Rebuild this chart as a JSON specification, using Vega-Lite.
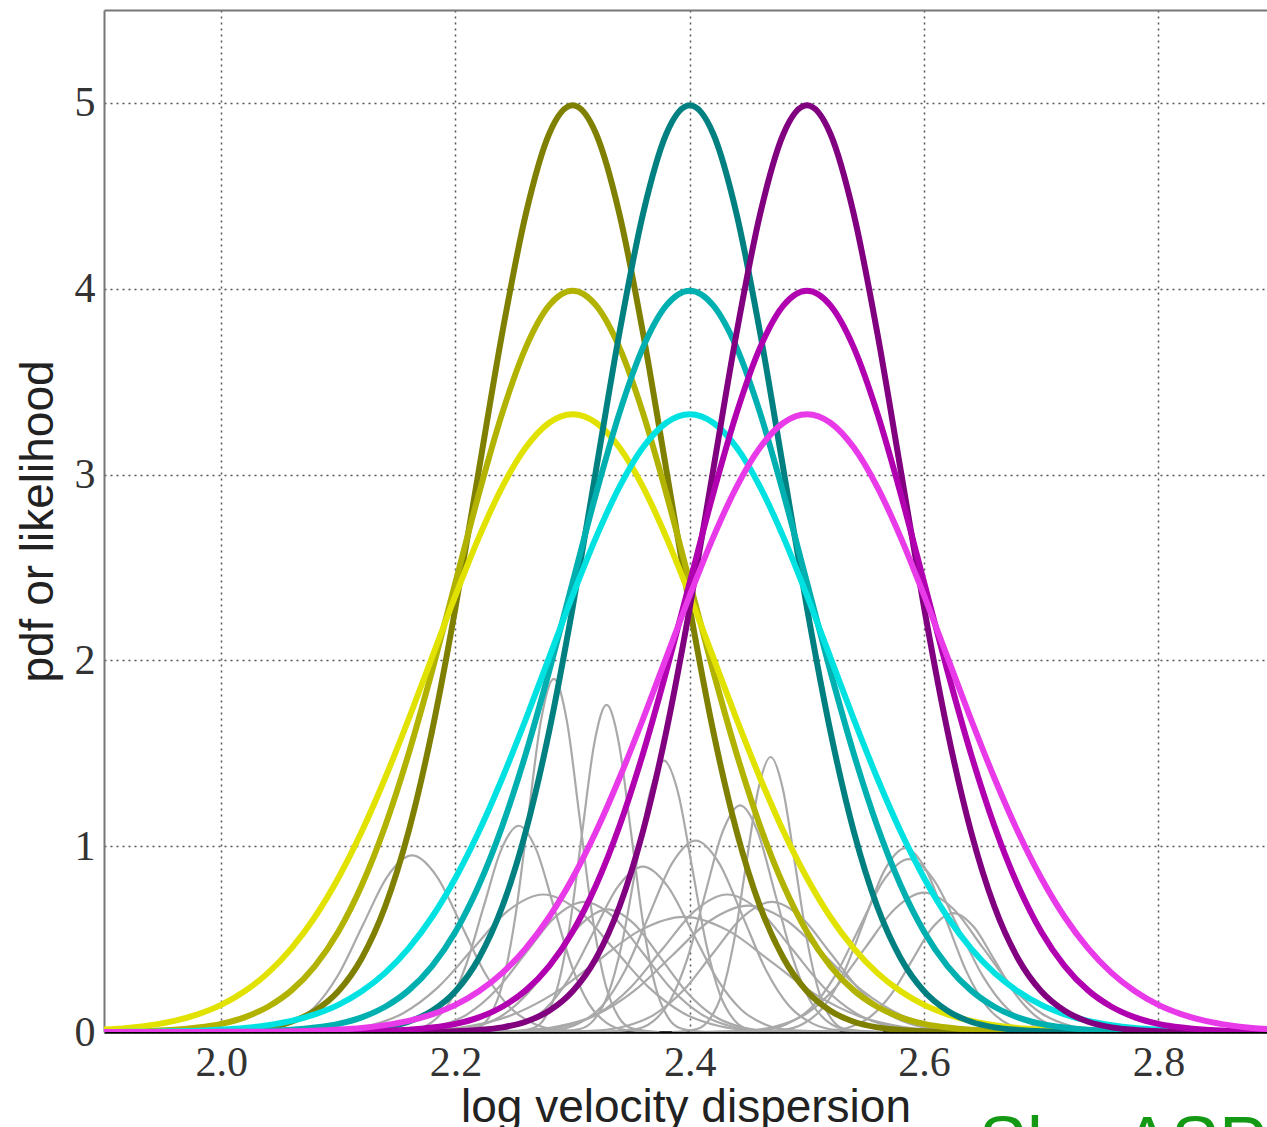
{
  "$schema": "https://vega.github.io/schema/vega-lite/v6.json",
  "autosize": {"type": "none"},
  "padding": {"left": 104, "top": 10, "right": 0, "bottom": 95},
  "width": 1163,
  "height": 1022,
  "background": "white",
  "config": {
    "view": {"stroke": null},
    "axis": {
      "labelFont": "Liberation Serif",
      "labelFontSize": 42,
      "labelColor": "#333333",
      "titleFont": "Liberation Sans",
      "titleFontSize": 46,
      "titleFontWeight": "normal",
      "titleColor": "#222222",
      "gridColor": "#555555",
      "gridDash": [2, 4],
      "gridWidth": 1.5,
      "ticks": false
    }
  },
  "title": {
    "text": "Shu ASP",
    "orient": "bottom",
    "anchor": "end",
    "frame": "group",
    "font": "Liberation Sans",
    "fontSize": 72,
    "fontWeight": "normal",
    "color": "#149914",
    "offset": -20
  },
  "datasets": {
    "gray": [
      {"g":"g1","x":1.995,"y":0},{"g":"g1","x":2.037,"y":0.011},{"g":"g1","x":2.058,"y":0.042},{"g":"g1","x":2.079,"y":0.129},{"g":"g1","x":2.1,"y":0.308},{"g":"g1","x":2.121,"y":0.576},{"g":"g1","x":2.142,"y":0.838},{"g":"g1","x":2.163,"y":0.95},{"g":"g1","x":2.184,"y":0.838},{"g":"g1","x":2.205,"y":0.576},{"g":"g1","x":2.226,"y":0.308},{"g":"g1","x":2.247,"y":0.129},{"g":"g1","x":2.268,"y":0.042},{"g":"g1","x":2.289,"y":0.011},{"g":"g1","x":2.331,"y":0},
      {"g":"g2","x":2.134,"y":0},{"g":"g2","x":2.164,"y":0.012},{"g":"g2","x":2.179,"y":0.049},{"g":"g2","x":2.194,"y":0.15},{"g":"g2","x":2.209,"y":0.36},{"g":"g2","x":2.224,"y":0.673},{"g":"g2","x":2.239,"y":0.98},{"g":"g2","x":2.254,"y":1.11},{"g":"g2","x":2.269,"y":0.98},{"g":"g2","x":2.284,"y":0.673},{"g":"g2","x":2.299,"y":0.36},{"g":"g2","x":2.314,"y":0.15},{"g":"g2","x":2.329,"y":0.049},{"g":"g2","x":2.344,"y":0.012},{"g":"g2","x":2.374,"y":0},
      {"g":"g3","x":2.196,"y":0},{"g":"g3","x":2.218,"y":0.021},{"g":"g3","x":2.229,"y":0.083},{"g":"g3","x":2.24,"y":0.257},{"g":"g3","x":2.251,"y":0.617},{"g":"g3","x":2.262,"y":1.152},{"g":"g3","x":2.273,"y":1.677},{"g":"g3","x":2.284,"y":1.9},{"g":"g3","x":2.295,"y":1.677},{"g":"g3","x":2.306,"y":1.152},{"g":"g3","x":2.317,"y":0.617},{"g":"g3","x":2.328,"y":0.257},{"g":"g3","x":2.339,"y":0.083},{"g":"g3","x":2.35,"y":0.021},{"g":"g3","x":2.372,"y":0},
      {"g":"g4","x":2.245,"y":0},{"g":"g4","x":2.266,"y":0.02},{"g":"g4","x":2.2765,"y":0.077},{"g":"g4","x":2.287,"y":0.238},{"g":"g4","x":2.2975,"y":0.571},{"g":"g4","x":2.308,"y":1.067},{"g":"g4","x":2.3185,"y":1.553},{"g":"g4","x":2.329,"y":1.76},{"g":"g4","x":2.3395,"y":1.553},{"g":"g4","x":2.35,"y":1.067},{"g":"g4","x":2.3605,"y":0.571},{"g":"g4","x":2.371,"y":0.238},{"g":"g4","x":2.3815,"y":0.077},{"g":"g4","x":2.392,"y":0.02},{"g":"g4","x":2.413,"y":0},
      {"g":"g5","x":2.282,"y":0},{"g":"g5","x":2.306,"y":0.016},{"g":"g5","x":2.318,"y":0.064},{"g":"g5","x":2.33,"y":0.198},{"g":"g5","x":2.342,"y":0.474},{"g":"g5","x":2.354,"y":0.885},{"g":"g5","x":2.366,"y":1.288},{"g":"g5","x":2.378,"y":1.46},{"g":"g5","x":2.39,"y":1.288},{"g":"g5","x":2.402,"y":0.885},{"g":"g5","x":2.414,"y":0.474},{"g":"g5","x":2.426,"y":0.198},{"g":"g5","x":2.438,"y":0.064},{"g":"g5","x":2.45,"y":0.016},{"g":"g5","x":2.474,"y":0},
      {"g":"g6","x":2.385,"y":0},{"g":"g6","x":2.406,"y":0.016},{"g":"g6","x":2.4165,"y":0.065},{"g":"g6","x":2.427,"y":0.2},{"g":"g6","x":2.4375,"y":0.481},{"g":"g6","x":2.448,"y":0.898},{"g":"g6","x":2.4585,"y":1.306},{"g":"g6","x":2.469,"y":1.48},{"g":"g6","x":2.4795,"y":1.306},{"g":"g6","x":2.49,"y":0.898},{"g":"g6","x":2.5005,"y":0.481},{"g":"g6","x":2.511,"y":0.2},{"g":"g6","x":2.5215,"y":0.065},{"g":"g6","x":2.532,"y":0.016},{"g":"g6","x":2.553,"y":0},
      {"g":"g7","x":2.323,"y":0},{"g":"g7","x":2.353,"y":0.014},{"g":"g7","x":2.368,"y":0.054},{"g":"g7","x":2.383,"y":0.165},{"g":"g7","x":2.398,"y":0.396},{"g":"g7","x":2.413,"y":0.74},{"g":"g7","x":2.428,"y":1.077},{"g":"g7","x":2.443,"y":1.22},{"g":"g7","x":2.458,"y":1.077},{"g":"g7","x":2.473,"y":0.74},{"g":"g7","x":2.488,"y":0.396},{"g":"g7","x":2.503,"y":0.165},{"g":"g7","x":2.518,"y":0.054},{"g":"g7","x":2.533,"y":0.014},{"g":"g7","x":2.563,"y":0},
      {"g":"g8","x":2.245,"y":0},{"g":"g8","x":2.285,"y":0.011},{"g":"g8","x":2.305,"y":0.045},{"g":"g8","x":2.325,"y":0.139},{"g":"g8","x":2.345,"y":0.334},{"g":"g8","x":2.365,"y":0.625},{"g":"g8","x":2.385,"y":0.909},{"g":"g8","x":2.405,"y":1.03},{"g":"g8","x":2.425,"y":0.909},{"g":"g8","x":2.445,"y":0.625},{"g":"g8","x":2.465,"y":0.334},{"g":"g8","x":2.485,"y":0.139},{"g":"g8","x":2.505,"y":0.045},{"g":"g8","x":2.525,"y":0.011},{"g":"g8","x":2.565,"y":0},
      {"g":"g9","x":2.444,"y":0},{"g":"g9","x":2.479,"y":0.011},{"g":"g9","x":2.4965,"y":0.043},{"g":"g9","x":2.514,"y":0.134},{"g":"g9","x":2.5315,"y":0.321},{"g":"g9","x":2.549,"y":0.6},{"g":"g9","x":2.5665,"y":0.874},{"g":"g9","x":2.584,"y":0.99},{"g":"g9","x":2.6015,"y":0.874},{"g":"g9","x":2.619,"y":0.6},{"g":"g9","x":2.6365,"y":0.321},{"g":"g9","x":2.654,"y":0.134},{"g":"g9","x":2.6715,"y":0.043},{"g":"g9","x":2.689,"y":0.011},{"g":"g9","x":2.724,"y":0},
      {"g":"g10","x":2.419,"y":0},{"g":"g10","x":2.461,"y":0.01},{"g":"g10","x":2.482,"y":0.041},{"g":"g10","x":2.503,"y":0.126},{"g":"g10","x":2.524,"y":0.302},{"g":"g10","x":2.545,"y":0.564},{"g":"g10","x":2.566,"y":0.821},{"g":"g10","x":2.587,"y":0.93},{"g":"g10","x":2.608,"y":0.821},{"g":"g10","x":2.629,"y":0.564},{"g":"g10","x":2.65,"y":0.302},{"g":"g10","x":2.671,"y":0.126},{"g":"g10","x":2.692,"y":0.041},{"g":"g10","x":2.713,"y":0.01},{"g":"g10","x":2.755,"y":0},
      {"g":"g11","x":2.4,"y":0},{"g":"g11","x":2.45,"y":0.008},{"g":"g11","x":2.475,"y":0.033},{"g":"g11","x":2.5,"y":0.101},{"g":"g11","x":2.525,"y":0.244},{"g":"g11","x":2.55,"y":0.455},{"g":"g11","x":2.575,"y":0.662},{"g":"g11","x":2.6,"y":0.75},{"g":"g11","x":2.625,"y":0.662},{"g":"g11","x":2.65,"y":0.455},{"g":"g11","x":2.675,"y":0.244},{"g":"g11","x":2.7,"y":0.101},{"g":"g11","x":2.725,"y":0.033},{"g":"g11","x":2.75,"y":0.008},{"g":"g11","x":2.8,"y":0},
      {"g":"g12","x":2.485,"y":0},{"g":"g12","x":2.52,"y":0.007},{"g":"g12","x":2.5375,"y":0.028},{"g":"g12","x":2.555,"y":0.087},{"g":"g12","x":2.5725,"y":0.208},{"g":"g12","x":2.59,"y":0.388},{"g":"g12","x":2.6075,"y":0.565},{"g":"g12","x":2.625,"y":0.64},{"g":"g12","x":2.6425,"y":0.565},{"g":"g12","x":2.66,"y":0.388},{"g":"g12","x":2.6775,"y":0.208},{"g":"g12","x":2.695,"y":0.087},{"g":"g12","x":2.7125,"y":0.028},{"g":"g12","x":2.73,"y":0.007},{"g":"g12","x":2.765,"y":0},
      {"g":"g13","x":2.035,"y":0},{"g":"g13","x":2.095,"y":0.008},{"g":"g13","x":2.125,"y":0.032},{"g":"g13","x":2.155,"y":0.1},{"g":"g13","x":2.185,"y":0.24},{"g":"g13","x":2.215,"y":0.449},{"g":"g13","x":2.245,"y":0.653},{"g":"g13","x":2.275,"y":0.74},{"g":"g13","x":2.305,"y":0.653},{"g":"g13","x":2.335,"y":0.449},{"g":"g13","x":2.365,"y":0.24},{"g":"g13","x":2.395,"y":0.1},{"g":"g13","x":2.425,"y":0.032},{"g":"g13","x":2.455,"y":0.008},{"g":"g13","x":2.515,"y":0},
      {"g":"g14","x":2.192,"y":0},{"g":"g14","x":2.234,"y":0.01},{"g":"g14","x":2.255,"y":0.039},{"g":"g14","x":2.276,"y":0.12},{"g":"g14","x":2.297,"y":0.289},{"g":"g14","x":2.318,"y":0.54},{"g":"g14","x":2.339,"y":0.785},{"g":"g14","x":2.36,"y":0.89},{"g":"g14","x":2.381,"y":0.785},{"g":"g14","x":2.402,"y":0.54},{"g":"g14","x":2.423,"y":0.289},{"g":"g14","x":2.444,"y":0.12},{"g":"g14","x":2.465,"y":0.039},{"g":"g14","x":2.486,"y":0.01},{"g":"g14","x":2.528,"y":0},
      {"g":"g15","x":2.212,"y":0},{"g":"g15","x":2.267,"y":0.008},{"g":"g15","x":2.2945,"y":0.032},{"g":"g15","x":2.322,"y":0.1},{"g":"g15","x":2.3495,"y":0.24},{"g":"g15","x":2.377,"y":0.449},{"g":"g15","x":2.4045,"y":0.653},{"g":"g15","x":2.432,"y":0.74},{"g":"g15","x":2.4595,"y":0.653},{"g":"g15","x":2.487,"y":0.449},{"g":"g15","x":2.5145,"y":0.24},{"g":"g15","x":2.542,"y":0.1},{"g":"g15","x":2.5695,"y":0.032},{"g":"g15","x":2.597,"y":0.008},{"g":"g15","x":2.652,"y":0},
      {"g":"g16","x":2.11,"y":0},{"g":"g16","x":2.16,"y":0.008},{"g":"g16","x":2.185,"y":0.031},{"g":"g16","x":2.21,"y":0.095},{"g":"g16","x":2.235,"y":0.227},{"g":"g16","x":2.26,"y":0.425},{"g":"g16","x":2.285,"y":0.618},{"g":"g16","x":2.31,"y":0.7},{"g":"g16","x":2.335,"y":0.618},{"g":"g16","x":2.36,"y":0.425},{"g":"g16","x":2.385,"y":0.227},{"g":"g16","x":2.41,"y":0.095},{"g":"g16","x":2.435,"y":0.031},{"g":"g16","x":2.46,"y":0.008},{"g":"g16","x":2.51,"y":0},
      {"g":"g18","x":2.19,"y":0},{"g":"g18","x":2.255,"y":0.008},{"g":"g18","x":2.2875,"y":0.03},{"g":"g18","x":2.32,"y":0.092},{"g":"g18","x":2.3525,"y":0.221},{"g":"g18","x":2.385,"y":0.412},{"g":"g18","x":2.4175,"y":0.6},{"g":"g18","x":2.45,"y":0.68},{"g":"g18","x":2.4825,"y":0.6},{"g":"g18","x":2.515,"y":0.412},{"g":"g18","x":2.5475,"y":0.221},{"g":"g18","x":2.58,"y":0.092},{"g":"g18","x":2.6125,"y":0.03},{"g":"g18","x":2.645,"y":0.008},{"g":"g18","x":2.71,"y":0},
      {"g":"g19","x":2.095,"y":0},{"g":"g19","x":2.17,"y":0.007},{"g":"g19","x":2.2075,"y":0.027},{"g":"g19","x":2.245,"y":0.084},{"g":"g19","x":2.2825,"y":0.201},{"g":"g19","x":2.32,"y":0.376},{"g":"g19","x":2.3575,"y":0.547},{"g":"g19","x":2.395,"y":0.62},{"g":"g19","x":2.4325,"y":0.547},{"g":"g19","x":2.47,"y":0.376},{"g":"g19","x":2.5075,"y":0.201},{"g":"g19","x":2.545,"y":0.084},{"g":"g19","x":2.5825,"y":0.027},{"g":"g19","x":2.62,"y":0.007},{"g":"g19","x":2.695,"y":0},
      {"g":"g20","x":2.15,"y":0},{"g":"g20","x":2.195,"y":0.007},{"g":"g20","x":2.2175,"y":0.029},{"g":"g20","x":2.24,"y":0.089},{"g":"g20","x":2.2625,"y":0.214},{"g":"g20","x":2.285,"y":0.4},{"g":"g20","x":2.3075,"y":0.582},{"g":"g20","x":2.33,"y":0.66},{"g":"g20","x":2.3525,"y":0.582},{"g":"g20","x":2.375,"y":0.4},{"g":"g20","x":2.3975,"y":0.214},{"g":"g20","x":2.42,"y":0.089},{"g":"g20","x":2.4425,"y":0.029},{"g":"g20","x":2.465,"y":0.007},{"g":"g20","x":2.51,"y":0},
      {"g":"g21","x":2.27,"y":0},{"g":"g21","x":2.32,"y":0.008},{"g":"g21","x":2.345,"y":0.031},{"g":"g21","x":2.37,"y":0.095},{"g":"g21","x":2.395,"y":0.227},{"g":"g21","x":2.42,"y":0.425},{"g":"g21","x":2.445,"y":0.618},{"g":"g21","x":2.47,"y":0.7},{"g":"g21","x":2.495,"y":0.618},{"g":"g21","x":2.52,"y":0.425},{"g":"g21","x":2.545,"y":0.227},{"g":"g21","x":2.57,"y":0.095},{"g":"g21","x":2.595,"y":0.031},{"g":"g21","x":2.62,"y":0.008},{"g":"g21","x":2.67,"y":0}
    ],
    "main": [
      {"c":"o5","x":1.9,"y":0},{"c":"o5","x":1.96,"y":0},{"c":"o5","x":1.98,"y":0.002},{"c":"o5","x":2.0,"y":0.004},{"c":"o5","x":2.02,"y":0.011},{"c":"o5","x":2.04,"y":0.025},{"c":"o5","x":2.06,"y":0.055},{"c":"o5","x":2.08,"y":0.114},{"c":"o5","x":2.1,"y":0.219},{"c":"o5","x":2.12,"y":0.397},{"c":"o5","x":2.14,"y":0.675},{"c":"o5","x":2.16,"y":1.079},{"c":"o5","x":2.18,"y":1.619},{"c":"o5","x":2.2,"y":2.283},{"c":"o5","x":2.22,"y":3.025},{"c":"o5","x":2.24,"y":3.764},{"c":"o5","x":2.26,"y":4.401},{"c":"o5","x":2.28,"y":4.834},{"c":"o5","x":2.3,"y":4.987},{"c":"o5","x":2.32,"y":4.834},{"c":"o5","x":2.34,"y":4.401},{"c":"o5","x":2.36,"y":3.764},{"c":"o5","x":2.38,"y":3.025},{"c":"o5","x":2.4,"y":2.283},{"c":"o5","x":2.42,"y":1.619},{"c":"o5","x":2.44,"y":1.079},{"c":"o5","x":2.46,"y":0.675},{"c":"o5","x":2.48,"y":0.397},{"c":"o5","x":2.5,"y":0.219},{"c":"o5","x":2.52,"y":0.114},{"c":"o5","x":2.54,"y":0.055},{"c":"o5","x":2.56,"y":0.025},{"c":"o5","x":2.58,"y":0.011},{"c":"o5","x":2.6,"y":0.004},{"c":"o5","x":2.62,"y":0.002},{"c":"o5","x":2.64,"y":0},{"c":"o5","x":2.9,"y":0},
      {"c":"o4","x":1.9,"y":0.001},{"c":"o4","x":1.92,"y":0.003},{"c":"o4","x":1.94,"y":0.006},{"c":"o4","x":1.96,"y":0.012},{"c":"o4","x":1.98,"y":0.024},{"c":"o4","x":2.0,"y":0.044},{"c":"o4","x":2.02,"y":0.079},{"c":"o4","x":2.04,"y":0.136},{"c":"o4","x":2.06,"y":0.224},{"c":"o4","x":2.08,"y":0.355},{"c":"o4","x":2.1,"y":0.54},{"c":"o4","x":2.12,"y":0.79},{"c":"o4","x":2.14,"y":1.109},{"c":"o4","x":2.16,"y":1.497},{"c":"o4","x":2.18,"y":1.942},{"c":"o4","x":2.2,"y":2.42},{"c":"o4","x":2.22,"y":2.897},{"c":"o4","x":2.24,"y":3.332},{"c":"o4","x":2.26,"y":3.683},{"c":"o4","x":2.28,"y":3.91},{"c":"o4","x":2.3,"y":3.989},{"c":"o4","x":2.32,"y":3.91},{"c":"o4","x":2.34,"y":3.683},{"c":"o4","x":2.36,"y":3.332},{"c":"o4","x":2.38,"y":2.897},{"c":"o4","x":2.4,"y":2.42},{"c":"o4","x":2.42,"y":1.942},{"c":"o4","x":2.44,"y":1.497},{"c":"o4","x":2.46,"y":1.109},{"c":"o4","x":2.48,"y":0.79},{"c":"o4","x":2.5,"y":0.54},{"c":"o4","x":2.52,"y":0.355},{"c":"o4","x":2.54,"y":0.224},{"c":"o4","x":2.56,"y":0.136},{"c":"o4","x":2.58,"y":0.079},{"c":"o4","x":2.6,"y":0.044},{"c":"o4","x":2.62,"y":0.024},{"c":"o4","x":2.64,"y":0.012},{"c":"o4","x":2.66,"y":0.006},{"c":"o4","x":2.68,"y":0.003},{"c":"o4","x":2.7,"y":0.001},{"c":"o4","x":2.72,"y":0},{"c":"o4","x":2.9,"y":0},
      {"c":"o3","x":1.9,"y":0.013},{"c":"o3","x":1.92,"y":0.022},{"c":"o3","x":1.94,"y":0.037},{"c":"o3","x":1.96,"y":0.06},{"c":"o3","x":1.98,"y":0.095},{"c":"o3","x":2.0,"y":0.146},{"c":"o3","x":2.02,"y":0.219},{"c":"o3","x":2.04,"y":0.318},{"c":"o3","x":2.06,"y":0.45},{"c":"o3","x":2.08,"y":0.619},{"c":"o3","x":2.1,"y":0.829},{"c":"o3","x":2.12,"y":1.079},{"c":"o3","x":2.14,"y":1.367},{"c":"o3","x":2.16,"y":1.683},{"c":"o3","x":2.18,"y":2.016},{"c":"o3","x":2.2,"y":2.349},{"c":"o3","x":2.22,"y":2.662},{"c":"o3","x":2.24,"y":2.934},{"c":"o3","x":2.26,"y":3.145},{"c":"o3","x":2.28,"y":3.279},{"c":"o3","x":2.3,"y":3.325},{"c":"o3","x":2.32,"y":3.279},{"c":"o3","x":2.34,"y":3.145},{"c":"o3","x":2.36,"y":2.934},{"c":"o3","x":2.38,"y":2.662},{"c":"o3","x":2.4,"y":2.349},{"c":"o3","x":2.42,"y":2.016},{"c":"o3","x":2.44,"y":1.683},{"c":"o3","x":2.46,"y":1.367},{"c":"o3","x":2.48,"y":1.079},{"c":"o3","x":2.5,"y":0.829},{"c":"o3","x":2.52,"y":0.619},{"c":"o3","x":2.54,"y":0.45},{"c":"o3","x":2.56,"y":0.318},{"c":"o3","x":2.58,"y":0.219},{"c":"o3","x":2.6,"y":0.146},{"c":"o3","x":2.62,"y":0.095},{"c":"o3","x":2.64,"y":0.06},{"c":"o3","x":2.66,"y":0.037},{"c":"o3","x":2.68,"y":0.022},{"c":"o3","x":2.7,"y":0.013},{"c":"o3","x":2.72,"y":0.007},{"c":"o3","x":2.74,"y":0.004},{"c":"o3","x":2.76,"y":0.002},{"c":"o3","x":2.78,"y":0.001},{"c":"o3","x":2.8,"y":0},{"c":"o3","x":2.9,"y":0},
      {"c":"t5","x":1.9,"y":0},{"c":"t5","x":2.06,"y":0},{"c":"t5","x":2.08,"y":0.002},{"c":"t5","x":2.1,"y":0.004},{"c":"t5","x":2.12,"y":0.011},{"c":"t5","x":2.14,"y":0.025},{"c":"t5","x":2.16,"y":0.055},{"c":"t5","x":2.18,"y":0.114},{"c":"t5","x":2.2,"y":0.219},{"c":"t5","x":2.22,"y":0.397},{"c":"t5","x":2.24,"y":0.675},{"c":"t5","x":2.26,"y":1.079},{"c":"t5","x":2.28,"y":1.619},{"c":"t5","x":2.3,"y":2.283},{"c":"t5","x":2.32,"y":3.025},{"c":"t5","x":2.34,"y":3.764},{"c":"t5","x":2.36,"y":4.401},{"c":"t5","x":2.38,"y":4.834},{"c":"t5","x":2.4,"y":4.987},{"c":"t5","x":2.42,"y":4.834},{"c":"t5","x":2.44,"y":4.401},{"c":"t5","x":2.46,"y":3.764},{"c":"t5","x":2.48,"y":3.025},{"c":"t5","x":2.5,"y":2.283},{"c":"t5","x":2.52,"y":1.619},{"c":"t5","x":2.54,"y":1.079},{"c":"t5","x":2.56,"y":0.675},{"c":"t5","x":2.58,"y":0.397},{"c":"t5","x":2.6,"y":0.219},{"c":"t5","x":2.62,"y":0.114},{"c":"t5","x":2.64,"y":0.055},{"c":"t5","x":2.66,"y":0.025},{"c":"t5","x":2.68,"y":0.011},{"c":"t5","x":2.7,"y":0.004},{"c":"t5","x":2.72,"y":0.002},{"c":"t5","x":2.74,"y":0},{"c":"t5","x":2.9,"y":0},
      {"c":"t4","x":1.9,"y":0},{"c":"t4","x":1.98,"y":0},{"c":"t4","x":2.0,"y":0.001},{"c":"t4","x":2.02,"y":0.003},{"c":"t4","x":2.04,"y":0.006},{"c":"t4","x":2.06,"y":0.012},{"c":"t4","x":2.08,"y":0.024},{"c":"t4","x":2.1,"y":0.044},{"c":"t4","x":2.12,"y":0.079},{"c":"t4","x":2.14,"y":0.136},{"c":"t4","x":2.16,"y":0.224},{"c":"t4","x":2.18,"y":0.355},{"c":"t4","x":2.2,"y":0.54},{"c":"t4","x":2.22,"y":0.79},{"c":"t4","x":2.24,"y":1.109},{"c":"t4","x":2.26,"y":1.497},{"c":"t4","x":2.28,"y":1.942},{"c":"t4","x":2.3,"y":2.42},{"c":"t4","x":2.32,"y":2.897},{"c":"t4","x":2.34,"y":3.332},{"c":"t4","x":2.36,"y":3.683},{"c":"t4","x":2.38,"y":3.91},{"c":"t4","x":2.4,"y":3.989},{"c":"t4","x":2.42,"y":3.91},{"c":"t4","x":2.44,"y":3.683},{"c":"t4","x":2.46,"y":3.332},{"c":"t4","x":2.48,"y":2.897},{"c":"t4","x":2.5,"y":2.42},{"c":"t4","x":2.52,"y":1.942},{"c":"t4","x":2.54,"y":1.497},{"c":"t4","x":2.56,"y":1.109},{"c":"t4","x":2.58,"y":0.79},{"c":"t4","x":2.6,"y":0.54},{"c":"t4","x":2.62,"y":0.355},{"c":"t4","x":2.64,"y":0.224},{"c":"t4","x":2.66,"y":0.136},{"c":"t4","x":2.68,"y":0.079},{"c":"t4","x":2.7,"y":0.044},{"c":"t4","x":2.72,"y":0.024},{"c":"t4","x":2.74,"y":0.012},{"c":"t4","x":2.76,"y":0.006},{"c":"t4","x":2.78,"y":0.003},{"c":"t4","x":2.8,"y":0.001},{"c":"t4","x":2.82,"y":0},{"c":"t4","x":2.9,"y":0},
      {"c":"t3","x":1.9,"y":0},{"c":"t3","x":1.92,"y":0.001},{"c":"t3","x":1.94,"y":0.002},{"c":"t3","x":1.96,"y":0.004},{"c":"t3","x":1.98,"y":0.007},{"c":"t3","x":2.0,"y":0.013},{"c":"t3","x":2.02,"y":0.022},{"c":"t3","x":2.04,"y":0.037},{"c":"t3","x":2.06,"y":0.06},{"c":"t3","x":2.08,"y":0.095},{"c":"t3","x":2.1,"y":0.146},{"c":"t3","x":2.12,"y":0.219},{"c":"t3","x":2.14,"y":0.318},{"c":"t3","x":2.16,"y":0.45},{"c":"t3","x":2.18,"y":0.619},{"c":"t3","x":2.2,"y":0.829},{"c":"t3","x":2.22,"y":1.079},{"c":"t3","x":2.24,"y":1.367},{"c":"t3","x":2.26,"y":1.683},{"c":"t3","x":2.28,"y":2.016},{"c":"t3","x":2.3,"y":2.349},{"c":"t3","x":2.32,"y":2.662},{"c":"t3","x":2.34,"y":2.934},{"c":"t3","x":2.36,"y":3.145},{"c":"t3","x":2.38,"y":3.279},{"c":"t3","x":2.4,"y":3.325},{"c":"t3","x":2.42,"y":3.279},{"c":"t3","x":2.44,"y":3.145},{"c":"t3","x":2.46,"y":2.934},{"c":"t3","x":2.48,"y":2.662},{"c":"t3","x":2.5,"y":2.349},{"c":"t3","x":2.52,"y":2.016},{"c":"t3","x":2.54,"y":1.683},{"c":"t3","x":2.56,"y":1.367},{"c":"t3","x":2.58,"y":1.079},{"c":"t3","x":2.6,"y":0.829},{"c":"t3","x":2.62,"y":0.619},{"c":"t3","x":2.64,"y":0.45},{"c":"t3","x":2.66,"y":0.318},{"c":"t3","x":2.68,"y":0.219},{"c":"t3","x":2.7,"y":0.146},{"c":"t3","x":2.72,"y":0.095},{"c":"t3","x":2.74,"y":0.06},{"c":"t3","x":2.76,"y":0.037},{"c":"t3","x":2.78,"y":0.022},{"c":"t3","x":2.8,"y":0.013},{"c":"t3","x":2.82,"y":0.007},{"c":"t3","x":2.84,"y":0.004},{"c":"t3","x":2.86,"y":0.002},{"c":"t3","x":2.88,"y":0.001},{"c":"t3","x":2.9,"y":0},
      {"c":"p5","x":1.9,"y":0},{"c":"p5","x":2.16,"y":0},{"c":"p5","x":2.18,"y":0.002},{"c":"p5","x":2.2,"y":0.004},{"c":"p5","x":2.22,"y":0.011},{"c":"p5","x":2.24,"y":0.025},{"c":"p5","x":2.26,"y":0.055},{"c":"p5","x":2.28,"y":0.114},{"c":"p5","x":2.3,"y":0.219},{"c":"p5","x":2.32,"y":0.397},{"c":"p5","x":2.34,"y":0.675},{"c":"p5","x":2.36,"y":1.079},{"c":"p5","x":2.38,"y":1.619},{"c":"p5","x":2.4,"y":2.283},{"c":"p5","x":2.42,"y":3.025},{"c":"p5","x":2.44,"y":3.764},{"c":"p5","x":2.46,"y":4.401},{"c":"p5","x":2.48,"y":4.834},{"c":"p5","x":2.5,"y":4.987},{"c":"p5","x":2.52,"y":4.834},{"c":"p5","x":2.54,"y":4.401},{"c":"p5","x":2.56,"y":3.764},{"c":"p5","x":2.58,"y":3.025},{"c":"p5","x":2.6,"y":2.283},{"c":"p5","x":2.62,"y":1.619},{"c":"p5","x":2.64,"y":1.079},{"c":"p5","x":2.66,"y":0.675},{"c":"p5","x":2.68,"y":0.397},{"c":"p5","x":2.7,"y":0.219},{"c":"p5","x":2.72,"y":0.114},{"c":"p5","x":2.74,"y":0.055},{"c":"p5","x":2.76,"y":0.025},{"c":"p5","x":2.78,"y":0.011},{"c":"p5","x":2.8,"y":0.004},{"c":"p5","x":2.82,"y":0.002},{"c":"p5","x":2.84,"y":0},{"c":"p5","x":2.9,"y":0},
      {"c":"p4","x":1.9,"y":0},{"c":"p4","x":2.08,"y":0},{"c":"p4","x":2.1,"y":0.001},{"c":"p4","x":2.12,"y":0.003},{"c":"p4","x":2.14,"y":0.006},{"c":"p4","x":2.16,"y":0.012},{"c":"p4","x":2.18,"y":0.024},{"c":"p4","x":2.2,"y":0.044},{"c":"p4","x":2.22,"y":0.079},{"c":"p4","x":2.24,"y":0.136},{"c":"p4","x":2.26,"y":0.224},{"c":"p4","x":2.28,"y":0.355},{"c":"p4","x":2.3,"y":0.54},{"c":"p4","x":2.32,"y":0.79},{"c":"p4","x":2.34,"y":1.109},{"c":"p4","x":2.36,"y":1.497},{"c":"p4","x":2.38,"y":1.942},{"c":"p4","x":2.4,"y":2.42},{"c":"p4","x":2.42,"y":2.897},{"c":"p4","x":2.44,"y":3.332},{"c":"p4","x":2.46,"y":3.683},{"c":"p4","x":2.48,"y":3.91},{"c":"p4","x":2.5,"y":3.989},{"c":"p4","x":2.52,"y":3.91},{"c":"p4","x":2.54,"y":3.683},{"c":"p4","x":2.56,"y":3.332},{"c":"p4","x":2.58,"y":2.897},{"c":"p4","x":2.6,"y":2.42},{"c":"p4","x":2.62,"y":1.942},{"c":"p4","x":2.64,"y":1.497},{"c":"p4","x":2.66,"y":1.109},{"c":"p4","x":2.68,"y":0.79},{"c":"p4","x":2.7,"y":0.54},{"c":"p4","x":2.72,"y":0.355},{"c":"p4","x":2.74,"y":0.224},{"c":"p4","x":2.76,"y":0.136},{"c":"p4","x":2.78,"y":0.079},{"c":"p4","x":2.8,"y":0.044},{"c":"p4","x":2.82,"y":0.024},{"c":"p4","x":2.84,"y":0.012},{"c":"p4","x":2.86,"y":0.006},{"c":"p4","x":2.88,"y":0.003},{"c":"p4","x":2.9,"y":0.001},
      {"c":"p3","x":1.9,"y":0},{"c":"p3","x":1.98,"y":0},{"c":"p3","x":2.0,"y":0.001},{"c":"p3","x":2.02,"y":0.001},{"c":"p3","x":2.04,"y":0.002},{"c":"p3","x":2.06,"y":0.004},{"c":"p3","x":2.08,"y":0.007},{"c":"p3","x":2.1,"y":0.013},{"c":"p3","x":2.12,"y":0.022},{"c":"p3","x":2.14,"y":0.037},{"c":"p3","x":2.16,"y":0.06},{"c":"p3","x":2.18,"y":0.095},{"c":"p3","x":2.2,"y":0.146},{"c":"p3","x":2.22,"y":0.219},{"c":"p3","x":2.24,"y":0.318},{"c":"p3","x":2.26,"y":0.45},{"c":"p3","x":2.28,"y":0.619},{"c":"p3","x":2.3,"y":0.829},{"c":"p3","x":2.32,"y":1.079},{"c":"p3","x":2.34,"y":1.367},{"c":"p3","x":2.36,"y":1.683},{"c":"p3","x":2.38,"y":2.016},{"c":"p3","x":2.4,"y":2.349},{"c":"p3","x":2.42,"y":2.662},{"c":"p3","x":2.44,"y":2.934},{"c":"p3","x":2.46,"y":3.145},{"c":"p3","x":2.48,"y":3.279},{"c":"p3","x":2.5,"y":3.325},{"c":"p3","x":2.52,"y":3.279},{"c":"p3","x":2.54,"y":3.145},{"c":"p3","x":2.56,"y":2.934},{"c":"p3","x":2.58,"y":2.662},{"c":"p3","x":2.6,"y":2.349},{"c":"p3","x":2.62,"y":2.016},{"c":"p3","x":2.64,"y":1.683},{"c":"p3","x":2.66,"y":1.367},{"c":"p3","x":2.68,"y":1.079},{"c":"p3","x":2.7,"y":0.829},{"c":"p3","x":2.72,"y":0.619},{"c":"p3","x":2.74,"y":0.45},{"c":"p3","x":2.76,"y":0.318},{"c":"p3","x":2.78,"y":0.219},{"c":"p3","x":2.8,"y":0.146},{"c":"p3","x":2.82,"y":0.095},{"c":"p3","x":2.84,"y":0.06},{"c":"p3","x":2.86,"y":0.037},{"c":"p3","x":2.88,"y":0.022},{"c":"p3","x":2.9,"y":0.013}
    ]
  },
  "layer": [
    {
      "data": {"name": "gray"},
      "mark": {"type": "line", "interpolate": "monotone", "strokeWidth": 2.2, "color": "#a9a9a9", "clip": true},
      "encoding": {
        "x": {
          "field": "x", "type": "quantitative",
          "scale": {"domain": [1.9, 2.8927], "nice": false, "zero": false},
          "axis": {"orient": "top", "labels": false, "grid": false, "title": null, "domainColor": "#777777", "domainWidth": 2}
        },
        "y": {
          "field": "y", "type": "quantitative",
          "scale": {"domain": [0, 5.5], "nice": false},
          "axis": {
            "values": [0, 1, 2, 3, 4, 5], "format": "d", "title": "pdf or likelihood", "grid": true,
            "labelPadding": 9, "titlePadding": 12, "domainColor": "#777777", "domainWidth": 2
          }
        },
        "detail": {"field": "g", "type": "nominal"}
      }
    },
    {
      "data": {"name": "main"},
      "mark": {"type": "line", "interpolate": "monotone", "strokeWidth": 6, "clip": true},
      "encoding": {
        "x": {
          "field": "x", "type": "quantitative",
          "scale": {"domain": [1.9, 2.8927], "nice": false, "zero": false},
          "axis": {
            "orient": "bottom", "values": [2.0, 2.2, 2.4, 2.6, 2.8], "format": ".1f", "grid": true,
            "title": "log velocity dispersion", "labelPadding": 10, "titlePadding": 2,
            "domainColor": "#000000", "domainWidth": 2.5
          }
        },
        "y": {"field": "y", "type": "quantitative"},
        "color": {
          "field": "c", "type": "nominal", "legend": null,
          "scale": {
            "domain": ["o5", "o4", "o3", "t5", "t4", "t3", "p5", "p4", "p3"],
            "range": ["#7f7f00", "#b2b200", "#e2e200", "#008080", "#00b0b0", "#00e2e2", "#800080", "#b000b0", "#e83ae8"]
          }
        }
      }
    }
  ],
  "resolve": {"axis": {"x": "independent"}}
}
